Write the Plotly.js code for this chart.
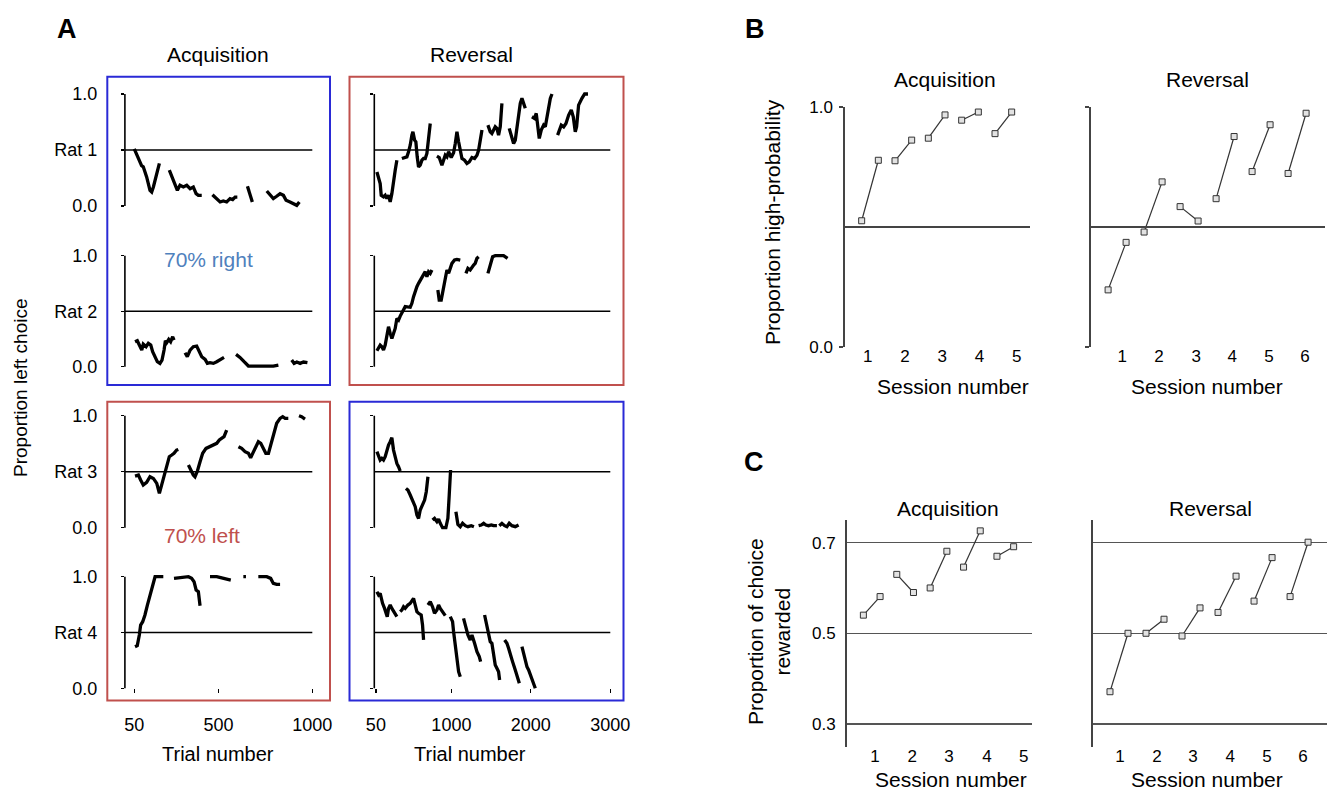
<!DOCTYPE html>
<html>
<head>
<meta charset="utf-8">
<script src="https://cdn.plot.ly/plotly-3.0.1.min.js"></script>
<style>html,body{margin:0;padding:0;background:#fff;}#chart{width:1327px;height:791px;}</style>
</head>
<body>
<div id="chart"></div>
<script>
// ---------------- DATA ----------------
// Panel A: running proportion of left choices (null = gap between sessions)
const rat1AcqTrial = [50,72,89,98,116,134,143,152,170,184,null,237,250,267,280,294,312,330,348,365,380,392,410,null,467,490,508,525,543,561,575,588,600,null,654,668,680,null,757,774,792,810,828,846,860,881,899,917,931];
const rat1AcqProp  = [0.51,0.42,0.36,0.35,0.26,0.14,0.125,0.17,0.29,0.38,null,0.32,0.26,0.20,0.14,0.185,0.17,0.185,0.155,0.17,0.11,0.095,0.095,null,0.10,0.066,0.036,0.045,0.036,0.066,0.057,0.08,0.08,null,0.176,0.11,0.036,null,0.134,0.095,0.066,0.087,0.11,0.095,0.051,0.036,0.021,0.006,0.036];

const rat2AcqTrial = [54,66,77,90,98,113,125,138,148,161,173,187,198,209,216,223,234,244,255,262,null,321,333,348,365,383,397,410,428,440,454,472,490,508,529,null,593,614,636,659,703,757,792,819,null,890,903,917,935,953,974];
const rat2AcqProp  = [0.225,0.234,0.195,0.15,0.204,0.18,0.21,0.195,0.135,0.09,0.045,0.03,0.06,0.15,0.234,0.216,0.246,0.225,0.27,0.24,null,0.126,0.09,0.15,0.18,0.186,0.135,0.09,0.066,0.03,0.036,0.03,0.045,0.06,0.084,null,0.111,0.084,0.045,0.006,0.006,0.006,0.006,0.015,null,0.06,0.03,0.042,0.03,0.042,0.036];

const rat3AcqTrial = [54,72,84,98,116,134,152,170,184,196,209,223,237,250,262,276,285,null,339,351,365,374,387,401,415,433,454,472,490,504,517,529,543,null,606,623,641,659,671,686,700,712,725,739,752,766,778,792,810,828,842,855,872,null,929,943,961];
const rat3AcqProp  = [0.461,0.47,0.426,0.381,0.405,0.455,0.44,0.396,0.307,0.381,0.47,0.545,0.634,0.649,0.664,0.693,0.699,null,0.56,0.515,0.47,0.455,0.506,0.589,0.664,0.708,0.723,0.738,0.753,0.783,0.798,0.813,0.872,null,0.723,0.708,0.679,0.664,0.625,0.679,0.723,0.768,0.753,0.708,0.664,0.664,0.738,0.842,0.932,0.976,0.991,0.976,0.976,null,1.0,0.991,0.97];

const rat4AcqTrial = [54,66,77,84,95,107,120,134,148,161,178,205,null,262,285,312,339,356,369,380,392,401,null,454,490,511,534,565,null,632,646,null,712,757,778,792,810,828];
const rat4AcqProp  = [0.373,0.382,0.478,0.567,0.597,0.657,0.746,0.836,0.925,1.0,1.0,1.0,null,0.985,0.991,1.0,1.0,0.985,0.955,0.881,0.866,0.74,null,1.0,1.0,0.991,0.979,0.97,null,1.0,1.0,null,1.0,1.0,0.985,0.94,0.931,0.931];

const rat1RevTrial = [63,84,104,117,146,167,188,209,230,251,272,293,314,null,377,411,440,461,482,503,516,537,553,570,587,608,629,650,671,692,713,734,null,818,847,881,902,923,944,965,998,1028,1049,1070,1091,1112,1133,1166,1196,1225,1259,1292,1322,1343,1363,1385,null,1460,1489,1510,1531,1552,1573,1594,1615,1636,null,1728,1754,1783,1804,1825,1846,1867,1888,1909,1930,null,2014,2047,2068,2089,2106,2131,2161,2182,2203,2224,2245,2266,null,2337,2358,2383,2413,2442,2476,2509,2534,2559,2576,2601,2643,2677,2719];
const rat1RevProp  = [0.304,0.26,0.2,0.096,0.081,0.096,0.066,0.096,0.036,0.11,0.23,0.32,0.409,null,0.424,0.433,0.439,0.484,0.543,0.633,0.663,0.588,0.573,0.439,0.349,0.364,0.409,0.424,0.424,0.469,0.588,0.737,null,0.445,0.433,0.364,0.409,0.454,0.439,0.484,0.433,0.475,0.558,0.663,0.573,0.499,0.424,0.409,0.379,0.394,0.433,0.424,0.454,0.499,0.573,0.678,null,0.722,0.663,0.648,0.678,0.707,0.693,0.633,0.707,0.916,null,0.693,0.633,0.558,0.588,0.693,0.827,0.916,0.961,0.916,0.872,null,0.797,0.782,0.827,0.693,0.603,0.678,0.722,0.707,0.797,0.901,0.961,1.0,null,0.633,0.678,0.722,0.707,0.737,0.812,0.857,0.797,0.663,0.707,0.901,0.961,1.0,1.0];

const rat2RevTrial = [63,84,104,125,146,167,188,209,230,251,272,293,314,335,356,377,398,419,482,503,524,545,566,587,608,629,650,671,692,713,734,755,null,830,847,872,889,914,944,965,986,1007,1040,1070,1112,null,1183,1208,1237,1259,1280,1300,1321,1343,null,1460,1477,1494,1519,1552,1594,1657,1707];
const rat2RevProp  = [0.144,0.165,0.195,0.18,0.15,0.195,0.27,0.36,0.3,0.255,0.3,0.345,0.435,0.42,0.456,0.48,0.51,0.541,0.535,0.571,0.631,0.691,0.721,0.751,0.781,0.811,0.826,0.856,0.811,0.856,0.841,0.871,null,0.691,0.601,0.601,0.661,0.751,0.871,0.841,0.901,0.931,0.961,0.967,0.961,null,0.841,0.886,0.871,0.901,0.916,0.931,0.976,0.991,null,0.841,0.886,0.946,0.991,1.0,1.0,1.0,0.976];

const rat3RevTrial = [63,84,104,125,146,167,188,209,230,251,272,293,314,335,356,null,428,453,482,512,545,566,587,608,637,663,684,705,null,763,788,818,839,860,889,931,956,973,990,null,1057,1082,1112,1141,1175,1208,1250,1284,null,1343,1376,1406,1435,1468,1502,1531,1573,null,1603,1636,1670,1699,1728,1762,1804,1846];
const rat3RevProp  = [0.679,0.649,0.604,0.619,0.604,0.634,0.693,0.738,0.768,0.804,0.693,0.619,0.574,0.545,0.506,null,0.351,0.336,0.292,0.247,0.188,0.113,0.083,0.158,0.202,0.247,0.321,0.455,null,0.068,0.083,0.054,0.077,0.039,0.0,0.0,0.083,0.292,0.515,null,0.143,0.03,0.009,0.039,0.018,0.009,0.018,0.009,null,0.018,0.024,0.039,0.024,0.018,0.024,0.018,0.018,null,0.018,0.039,0.018,0.009,0.039,0.018,0.009,0.024];

const rat4RevTrial = [63,84,104,117,134,159,176,193,209,230,251,272,293,314,null,356,377,398,419,453,482,524,545,566,587,620,637,650,null,705,734,763,788,818,839,860,889,923,null,986,1015,1028,1049,1070,1091,1112,null,1153,1183,1208,1237,1259,1292,1322,1351,1368,null,1418,1447,1468,1489,1510,1531,1552,1573,1594,1607,null,1670,1699,1720,1741,1770,1804,1838,1855,null,1888,1909,1930,1951,1972,1993,2014,2035,2056];
const rat4RevProp  = [0.866,0.836,0.851,0.806,0.761,0.716,0.687,0.642,0.716,0.746,0.716,0.687,0.657,0.642,null,0.687,0.701,0.731,0.716,0.746,0.761,0.806,0.746,0.687,0.672,0.657,0.567,0.433,null,0.746,0.776,0.731,0.672,0.701,0.746,0.716,0.687,0.651,null,0.642,0.597,0.507,0.388,0.269,0.149,0.104,null,0.627,0.537,0.478,0.433,0.478,0.403,0.328,0.284,0.239,null,0.657,0.567,0.478,0.418,0.403,0.313,0.209,0.179,0.149,0.075,null,0.433,0.403,0.358,0.299,0.239,0.164,0.075,0.045,null,0.373,0.313,0.254,0.194,0.164,0.119,0.075,0.036,0.0];

const acqTickVals = [50, 500, 1000];
const acqTickText = ['50', '500', '1000'];
const revTickVals = [50, 1000, 2000, 3000];
const revTickText = ['50', '1000', '2000', '3000'];

// Panel B: proportion high-probability choice (first half, second half of each session)
const acqHighProb = [0.526,0.778,0.776,0.862,0.870,0.967,0.945,0.979,0.889,0.979];
const revHighProb = [0.238,0.436,0.479,0.688,0.585,0.525,0.618,0.877,0.731,0.926,0.723,0.974];
// Panel C: proportion of choices rewarded
const acqRewarded = [0.540,0.581,0.630,0.590,0.600,0.681,0.646,0.726,0.670,0.691];
const revRewarded = [0.371,0.500,0.500,0.531,0.494,0.556,0.546,0.626,0.571,0.667,0.581,0.701];

const acqSessionLabels = ['1','2','3','4','5'];
const revSessionLabels = ['1','2','3','4','5','6'];
const bAcqSessionPos = [1.36, 3.6, 5.83, 8.07, 10.3];
const bRevSessionPos = [1.78, 3.83, 5.89, 7.89, 9.94, 11.94];
const cAcqSessionPos = [1.7, 3.92, 6.13, 8.41, 10.6];
const cRevSessionPos = [1.56, 3.61, 5.61, 7.67, 9.72, 11.72];

// ---------------- LAYOUT HELPERS ----------------
const W = 1327, H = 791;
const FONT = 'Liberation Sans, Arial, Helvetica, sans-serif';
const px = x => x / W;
const py = y => 1 - y / H;

const traces = [];
const layout = {
  width: W, height: H,
  margin: {l: 0, r: 0, t: 0, b: 0},
  paper_bgcolor: '#fff', plot_bgcolor: 'rgba(0,0,0,0)',
  showlegend: false,
  font: {family: FONT, color: '#000'},
  shapes: [], annotations: []
};
const ids = n => n === 1 ? ['x', 'y', 'xaxis', 'yaxis'] : ['x' + n, 'y' + n, 'xaxis' + n, 'yaxis' + n];

// ---------- Panel A ----------
const aRows = [[94, 206], [255.7, 366.7], [415.7, 527.7], [576.7, 688.3]];
const aSeries = [
  [rat1AcqTrial, rat1AcqProp, rat1RevTrial, rat1RevProp],
  [rat2AcqTrial, rat2AcqProp, rat2RevTrial, rat2RevProp],
  [rat3AcqTrial, rat3AcqProp, rat3RevTrial, rat3RevProp],
  [rat4AcqTrial, rat4AcqProp, rat4RevTrial, rat4RevProp]
];
const PAD = 0.03;
aRows.forEach((row, r) => {
  const [top, bot] = row;
  const unit = bot - top;
  [0, 1].forEach(c => {
    const n = 2 * r + c + 1;
    const [xr, yr, xa, ya] = ids(n);
    const isAcq = c === 0;
    layout[xa] = {
      domain: isAcq ? [px(124.9), px(312.3)] : [px(374.3), px(610.3)],
      range: isAcq ? [0, 1000] : [30, 3000],
      visible: r === 3,
      showgrid: false, zeroline: false, showline: false,
      ticks: 'outside', ticklen: 4, tickwidth: 1.3, tickcolor: '#000',
      tickvals: isAcq ? acqTickVals : revTickVals,
      ticktext: isAcq ? acqTickText : revTickText,
      tickfont: {family: FONT, size: 18, color: '#000'},
      ticklabelstandoff: 16,
      anchor: 'free', position: py(bot),
      fixedrange: true
    };
    layout[ya] = {
      domain: [py(bot + PAD * unit), py(top - PAD * unit)],
      range: [-PAD, 1 + PAD],
      showgrid: false, zeroline: false, showline: false,
      ticks: 'outside', ticklen: 3, tickwidth: 1.3, tickcolor: '#000',
      tickvals: isAcq ? [0, 0.5, 1] : [0, 1],
      ticktext: isAcq ? ['0.0', 'Rat ' + (r + 1), '1.0'] : ['', ''],
      showticklabels: isAcq,
      tickfont: {family: FONT, size: 18, color: '#000'},
      ticklabelstandoff: 20,
      anchor: xr, fixedrange: true
    };
    layout.shapes.push({type: 'line', xref: xr + ' domain', yref: yr, x0: 0, x1: 0, y0: 0, y1: 1,
      line: {color: '#000', width: 1.6}});
    layout.shapes.push({type: 'line', xref: xr + ' domain', yref: yr, x0: 0, x1: 1, y0: 0.5, y1: 0.5,
      line: {color: '#000', width: 1.6}});
    const s = aSeries[r];
    traces.push({
      type: 'scatter', mode: 'lines',
      x: isAcq ? s[0] : s[2], y: isAcq ? s[1] : s[3],
      xaxis: xr, yaxis: yr, connectgaps: false,
      line: {color: '#000', width: 3.3}, hoverinfo: 'skip'
    });
  });
});

// coloured boxes
const BLUE = '#2a2ad6', RED = '#c0504d';
[[107.3, 76.7, 330, 385, BLUE], [349.5, 76.7, 623.5, 385, RED],
 [107.3, 401.7, 330, 700.5, RED], [349.5, 401.7, 623.5, 700.5, BLUE]].forEach(b => {
  layout.shapes.push({type: 'rect', xref: 'paper', yref: 'paper',
    x0: px(b[0]), x1: px(b[2]), y0: py(b[3]), y1: py(b[1]),
    line: {color: b[4], width: 2}, fillcolor: 'rgba(0,0,0,0)'});
});

// ---------- Panels B & C ----------
function pairs(vals) {
  const x = [], y = [];
  vals.forEach((v, i) => {
    x.push(i + 1); y.push(v);
    if (i % 2 === 1) { x.push(null); y.push(null); }
  });
  return {x, y};
}
const GREY = '#444';
const smallPanels = [
  {n: 9,  vals: acqHighProb, xd: [845, 1030],    xr: [0, 11.1],    yd: [347, 107], yr: [0, 1],
   tv: bAcqSessionPos, tt: acqSessionLabels, panel: 'B', lbl: true},
  {n: 10, vals: revHighProb, xd: [1091, 1325],   xr: [0.05, 13.05], yd: [347, 107], yr: [0, 1],
   tv: bRevSessionPos, tt: revSessionLabels, panel: 'B', lbl: false},
  {n: 11, vals: acqRewarded, xd: [846.7, 1032],  xr: [0, 11.1],    yd: [747, 520], yr: [0.249, 0.750],
   tv: cAcqSessionPos, tt: acqSessionLabels, panel: 'C', lbl: true},
  {n: 12, vals: revRewarded, xd: [1092.7, 1327], xr: [0.04, 13.05], yd: [747, 520], yr: [0.249, 0.750],
   tv: cRevSessionPos, tt: revSessionLabels, panel: 'C', lbl: false}
];
smallPanels.forEach(p => {
  const [xr, yr, xa, ya] = ids(p.n);
  layout[xa] = {
    domain: [px(p.xd[0]), px(p.xd[1])], range: p.xr,
    showgrid: false, zeroline: false, showline: false, ticks: '',
    tickvals: p.tv, ticktext: p.tt,
    tickfont: {family: FONT, size: 17, color: '#000'},
    ticklabelstandoff: -3,
    anchor: yr, fixedrange: true
  };
  if (p.panel === 'B') {
    layout[ya] = {
      domain: [py(p.yd[0]), py(p.yd[1])], range: p.yr,
      showgrid: false, zeroline: false,
      showline: true, linecolor: GREY, linewidth: 1.6,
      ticks: 'outside', ticklen: 4, tickcolor: GREY, tickwidth: 1.3,
      tickvals: [0, 1], ticktext: ['0.0', '1.0'], showticklabels: p.lbl,
      tickfont: {family: FONT, size: 17, color: '#000'},
      ticklabelstandoff: 3,
      anchor: xr, fixedrange: true
    };
    layout.shapes.push({type: 'line', xref: xr + ' domain', yref: yr, x0: 0, x1: 1, y0: 0.5, y1: 0.5,
      line: {color: GREY, width: 1.8}});
  } else {
    layout[ya] = {
      domain: [py(p.yd[0]), py(p.yd[1])], range: p.yr,
      showgrid: true, gridcolor: '#555', gridwidth: 1.3, zeroline: false,
      showline: true, linecolor: GREY, linewidth: 1.6,
      ticks: '',
      tickvals: [0.3, 0.5, 0.7], ticktext: ['0.3', '0.5', '0.7'], showticklabels: p.lbl,
      tickfont: {family: FONT, size: 17, color: '#000'},
      ticklabelstandoff: 6,
      anchor: xr, fixedrange: true
    };
  }
  const d = pairs(p.vals);
  traces.push({
    type: 'scatter', mode: 'lines+markers', x: d.x, y: d.y,
    xaxis: xr, yaxis: yr, connectgaps: false, cliponaxis: false,
    line: {color: '#333', width: 1.2},
    marker: {symbol: 'square', size: 6, color: '#e2e2e2', line: {color: '#333', width: 1}},
    hoverinfo: 'skip'
  });
});

// ---------- Text ----------
function ann(text, x, y, size, extra) {
  return Object.assign({
    text: text, x: px(x), y: py(y), xref: 'paper', yref: 'paper',
    showarrow: false, xanchor: 'center', yanchor: 'middle',
    font: {family: FONT, size: size, color: '#000'}
  }, extra || {});
}
layout.annotations.push(
  ann('<b>A</b>', 67, 29, 27),
  ann('<b>B</b>', 755, 29, 27),
  ann('<b>C</b>', 754, 462, 27),
  ann('Acquisition', 218, 55, 21),
  ann('Reversal', 471, 55, 21),
  ann('Proportion left choice', 20, 388, 19, {textangle: -90}),
  ann('Trial number', 218, 754, 20),
  ann('Trial number', 470, 754, 20),
  ann('70% right', 208, 259, 21, {font: {family: FONT, size: 21, color: '#4f81bd'}}),
  ann('70% left', 202, 535, 21, {font: {family: FONT, size: 21, color: RED}}),
  ann('Acquisition', 945, 80, 21),
  ann('Reversal', 1207, 80, 21),
  ann('Session number', 953, 386, 21),
  ann('Session number', 1207, 386, 21),
  ann('Proportion high-probability', 772, 222, 21, {textangle: -90}),
  ann('Acquisition', 948, 508, 21),
  ann('Reversal', 1210, 508, 21),
  ann('Session number', 951, 779, 21),
  ann('Session number', 1207, 779, 21),
  ann('Proportion of choice<br>rewarded', 769, 632, 21, {textangle: -90})
);

Plotly.newPlot('chart', traces, layout, {displayModeBar: false, staticPlot: true});
</script>
</body>
</html>
